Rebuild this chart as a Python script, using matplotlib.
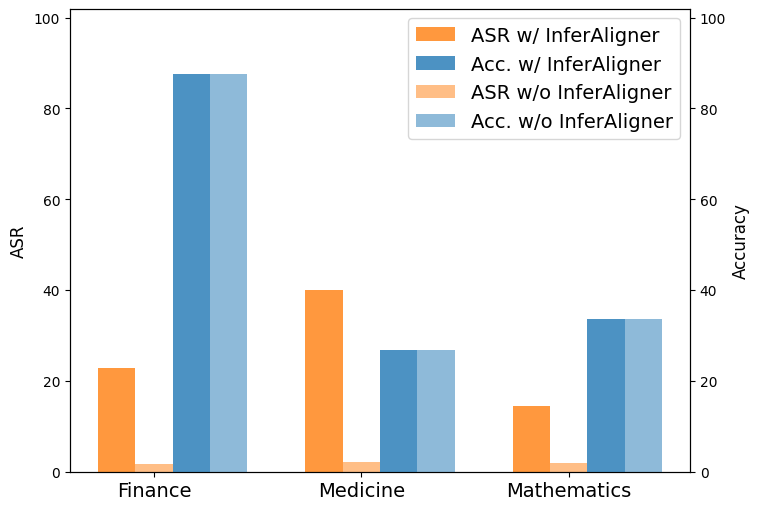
import numpy as np
import matplotlib
matplotlib.use('Agg')
import matplotlib.pyplot as plt

domains = ['Finance', 'Medicine', 'Mathematics']
asr_with = [22.8, 39.9, 14.4]
asr_without = [1.6, 2.0, 1.8]
acc_with = [87.5, 26.7, 33.5]
acc_without = [87.5, 26.7, 33.5]

x = np.arange(len(domains))
w = 0.18

fig, ax1 = plt.subplots(figsize=(7.59, 5.10), dpi=100)
fig.subplots_adjust(left=70/759, right=690/759, top=1-9.5/510, bottom=1-472.5/510)
ax2 = ax1.twinx()

b1 = ax1.bar(x - w, asr_with, w, color='#ff7f0e', alpha=0.8, label='ASR w/ InferAligner')
b3 = ax1.bar(x, asr_without, w, color='#ff7f0e', alpha=0.5, label='ASR w/o InferAligner')
b2 = ax2.bar(x + w, acc_with, w, color='#1f77b4', alpha=0.8, label='Acc. w/ InferAligner')
b4 = ax2.bar(x + 2 * w, acc_without, w, color='#1f77b4', alpha=0.5, label='Acc. w/o InferAligner')

ax1.set_ylim(0, 102)
ax2.set_ylim(0, 102)
ax1.set_ylabel('ASR', fontsize=12)
ax2.set_ylabel('Accuracy', fontsize=12)
ax1.set_xticks(x)
ax1.set_xticklabels(domains, fontsize=14)

handles = [b1, b2, b3, b4]
ax1.legend(handles, [h.get_label() for h in handles], loc='upper right', fontsize=14)

fig.savefig('out.png', dpi=100)
